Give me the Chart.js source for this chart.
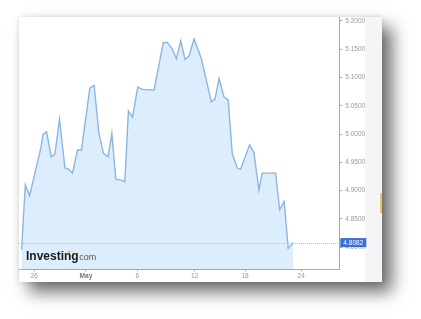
<!DOCTYPE html>
<html>
<head>
<meta charset="utf-8">
<script src="https://cdn.jsdelivr.net/npm/chart.js@4/dist/chart.umd.min.js"></script>
<style>
  html, body { margin: 0; padding: 0; background: #ffffff; }
  body { width: 421px; height: 319px; position: relative; overflow: hidden; }
  #panel {
    position: absolute; left: 19px; top: 17px; width: 363px; height: 265px;
    background: linear-gradient(to right, #ffffff 0, #ffffff 346px, #f5f5f7 346px, #f5f5f7 100%);
    box-shadow: 10px 10px 16px rgba(0,0,0,0.58), 0 0 5px rgba(0,0,0,0.12);
  }
  #mark { position: absolute; left: 361px; top: 176px; width: 2px; height: 20px; background: #f2c46a; }
  canvas { position: absolute; left: 0; top: 0; }
</style>
</head>
<body>
<div id="panel">
  <canvas id="c" width="363" height="265"></canvas>
  <div id="mark"></div>
</div>
<script>
// x positions are "chart days" counted from the 26 (April) tick; ticks are unevenly spaced in the source
const xDays = [-1.33, -0.94, -0.49, 0.70, 0.91, 1.29, 1.78, 2.17, 2.65, 3.22, 3.59, 4.01, 4.54, 4.95,
  5.83, 6.28, 6.78, 7.26, 7.75, 8.14, 8.56, 9.08, 9.50, 9.88, 10.30, 10.86, 11.34, 12.57, 13.54, 13.96,
  14.49, 14.91, 15.37, 15.82, 16.24, 16.76, 17.52, 18.57, 18.96, 19.38, 19.90, 20.35, 20.77, 21.29,
  21.65, 22.59, 23.04, 23.57, 23.91, 25.32, 25.74, 26.22, 26.64, 27.16];
const rates = [4.795, 4.910, 4.891, 4.976, 4.999, 5.004, 4.960, 4.965, 5.026, 4.940, 4.938, 4.931, 4.972, 4.972,
  5.081, 5.086, 5.002, 4.966, 4.960, 5.001, 4.920, 4.919, 4.916, 5.041, 5.030, 5.083, 5.079, 5.078, 5.162, 5.162,
  5.150, 5.133, 5.165, 5.132, 5.138, 5.168, 5.134, 5.057, 5.062, 5.098, 5.066, 5.060, 4.966, 4.940,
  4.938, 4.981, 4.968, 4.901, 4.931, 4.931, 4.866, 4.881, 4.798, 4.8082];
const xTickPos = [0, 5.42, 10.82, 16.83, 22.11, 28.0];
const xTickLabels = ['26', 'May', '6', '12', '18', '24'];
const yTicks = [4.80, 4.85, 4.90, 4.95, 5.00, 5.05, 5.10, 5.15, 5.20];
const currentRate = 4.8082;

const points = xDays.map((x, i) => ({ x: x, y: rates[i] }));

const overlay = {
  id: 'overlay',
  afterDatasetsDraw(chart) {
    const { ctx, chartArea, scales } = chart;
    const y = scales.y.getPixelForValue(currentRate);
    ctx.save();
    ctx.strokeStyle = '#aac4f0';
    ctx.lineWidth = 1;
    ctx.setLineDash([1, 1]);
    ctx.beginPath();
    ctx.moveTo(chartArea.left, Math.round(y) + 0.5);
    ctx.lineTo(chartArea.right, Math.round(y) + 0.5);
    ctx.stroke();
    ctx.setLineDash([]);
    ctx.fillStyle = '#1b1b1b';
    ctx.font = 'bold 12px "Liberation Sans", Arial, sans-serif';
    ctx.textBaseline = 'alphabetic';
    ctx.textAlign = 'left';
    const lx = chartArea.left + 7, ly = chartArea.bottom - 9;
    ctx.fillText('Investing', lx, ly);
    const w = ctx.measureText('Investing').width;
    const wi = ctx.measureText('Investin').width - ctx.measureText('i').width / 2 - 0.5;
    ctx.fillStyle = '#f0b43c';
    ctx.beginPath();
    ctx.arc(lx + wi, ly - 8.2, 1.3, 0, Math.PI * 2);
    ctx.fill();
    ctx.fillStyle = '#555555';
    ctx.font = '9px "Liberation Sans", Arial, sans-serif';
    ctx.fillText('com', lx + w + 0.5, ly);
    ctx.restore();
  },
  afterDraw(chart) {
    const { ctx, chartArea, scales } = chart;
    const y = scales.y.getPixelForValue(currentRate);
    ctx.save();
    ctx.fillStyle = '#3a6fd6';
    ctx.fillRect(chartArea.right + 1, y - 4.5, 26, 9);
    ctx.fillStyle = '#ffffff';
    ctx.font = '6.5px "Liberation Sans", Arial, sans-serif';
    ctx.textAlign = 'center';
    ctx.textBaseline = 'middle';
    ctx.fillText(currentRate.toFixed(4), chartArea.right + 14, y + 0.5);
    ctx.restore();
  }
};

new Chart(document.getElementById('c'), {
  type: 'line',
  data: {
    datasets: [{
      data: points,
      borderColor: '#8db5e2',
      borderWidth: 1.4,
      backgroundColor: 'rgba(214,235,250,0.85)',
      fill: 'start',
      tension: 0,
      pointRadius: 0
    }]
  },
  options: {
    responsive: false,
    animation: false,
    layout: { padding: 0 },
    plugins: { legend: { display: false }, tooltip: { enabled: false } },
    scales: {
      x: {
        type: 'linear',
        min: -1.6,
        max: 32,
        afterBuildTicks(scale) { scale.ticks = xTickPos.map(v => ({ value: v })); },
        afterFit(scale) { scale.height = 12.7; scale.paddingLeft = 0; scale.paddingRight = 0; },
        grid: { drawOnChartArea: false, drawTicks: true, tickLength: 2, color: '#aaaaaa' },
        border: { display: true, color: '#a8a8a8', width: 1 },
        ticks: {
          autoSkip: false, maxRotation: 0, padding: 1,
          color: (c) => c.index === 1 ? '#777777' : '#999999',
          font: (c) => ({ size: 6.5, family: '"Liberation Sans", Arial, sans-serif', weight: c.index === 1 ? 'bold' : 'normal' }),
          callback: (v, i) => xTickLabels[i]
        }
      },
      y: {
        type: 'linear',
        position: 'right',
        min: 4.761,
        max: 5.207,
        afterBuildTicks(scale) { scale.ticks = yTicks.map(v => ({ value: v })); },
        afterFit(scale) { scale.width = 42.7; scale.paddingTop = 0; scale.paddingBottom = 0; },
        grid: { drawOnChartArea: false, drawTicks: true, tickLength: 3, color: '#aaaaaa' },
        border: { display: true, color: '#a8a8a8', width: 1 },
        ticks: {
          padding: 3,
          color: '#999999',
          font: { size: 6.5, family: '"Liberation Sans", Arial, sans-serif' },
          callback: (v) => Number(v).toFixed(4)
        }
      }
    }
  },
  plugins: [overlay]
});
</script>
</body>
</html>
